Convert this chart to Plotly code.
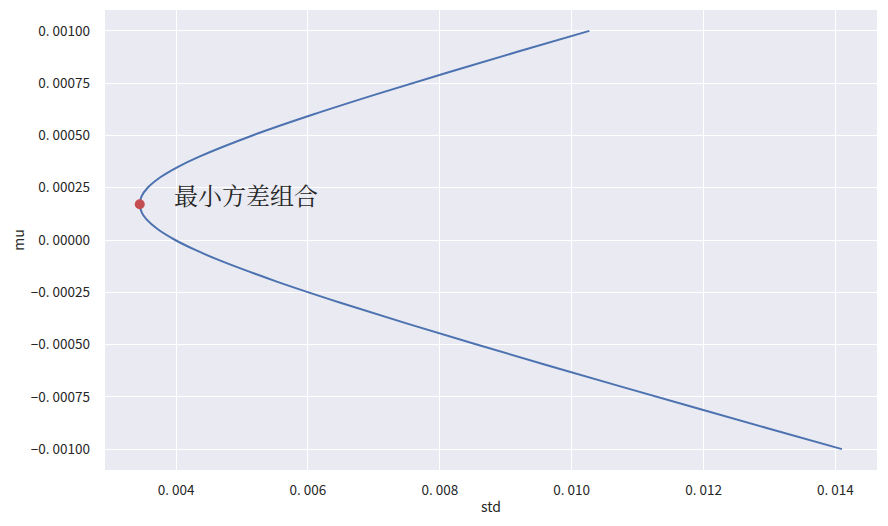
import plotly.graph_objects as go

# Efficient frontier points (std, mu)
mu_values = [-0.00100, -0.00090, -0.00080, -0.00070, -0.00060, -0.00050, -0.00040,
             -0.00030, -0.00020, -0.00010, -0.00005, 0.00000, 0.00005, 0.00010,
             0.00013, 0.000171, 0.00021, 0.00025, 0.00030, 0.00035, 0.00040,
             0.00050, 0.00060, 0.00070, 0.00080, 0.00090, 0.00100]
std_values = [0.014098, 0.012970, 0.011849, 0.010738, 0.009640, 0.008560, 0.007507,
              0.006493, 0.005539, 0.004682, 0.004309, 0.003987, 0.003729, 0.003549,
              0.003483, 0.003450, 0.003479, 0.003570, 0.003762, 0.004031, 0.004362,
              0.005159, 0.006077, 0.007069, 0.008108, 0.009177, 0.010268]

min_var_std = [0.00345]
min_var_mu = [0.000171]
annotation_text = "最小方差组合"
annotation_pos = (0.00394, 0.000219)

x_ticks = [0.004, 0.006, 0.008, 0.010, 0.012, 0.014]
x_ticklabels = ["0. 004", "0. 006", "0. 008", "0. 010", "0. 012", "0. 014"]
y_ticks = [-0.001, -0.00075, -0.0005, -0.00025, 0.0, 0.00025, 0.0005, 0.00075, 0.001]
y_ticklabels = ["\u22120. 00100", "\u22120. 00075", "\u22120. 00050", "\u22120. 00025",
                "0. 00000", "0. 00025", "0. 00050", "0. 00075", "0. 00100"]

font_family = "Noto Sans CJK SC"

fig = go.Figure()
fig.add_trace(go.Scatter(x=std_values, y=mu_values, mode="lines",
                         line=dict(color="#4C72B0", width=2, shape="spline"),
                         hoverinfo="skip", showlegend=False))
fig.add_trace(go.Scatter(x=min_var_std, y=min_var_mu, mode="markers",
                         marker=dict(color="#C44E52", size=10),
                         showlegend=False))
fig.add_annotation(x=annotation_pos[0], y=annotation_pos[1], text=annotation_text,
                   showarrow=False, xanchor="left", yanchor="middle",
                   font=dict(family="Noto Serif CJK SC, " + font_family, size=24, color="#262626"))

fig.update_layout(
    width=880, height=518,
    margin=dict(l=97, r=11, t=2, b=56),
    paper_bgcolor="white", plot_bgcolor="#EAEAF2",
    font=dict(family=font_family, size=13.5, color="#262626"),
    showlegend=False,
)
fig.update_xaxes(range=[0.002923, 0.014630], tickvals=x_ticks, ticktext=x_ticklabels,
                 showgrid=True, gridcolor="white", gridwidth=1.4, zeroline=False,
                 showline=False, ticks="", ticklabelstandoff=10, automargin=False,
                 title=dict(text="std", standoff=4, font=dict(size=14)))
fig.update_yaxes(range=[-0.0011, 0.0011], tickvals=y_ticks, ticktext=y_ticklabels,
                 showgrid=True, gridcolor="white", gridwidth=1.4, zeroline=False,
                 showline=False, ticks="", ticklabelstandoff=14, automargin=False,
                 title=dict(text="mu", standoff=12, font=dict(size=14)))

fig.write_html("out.html")
